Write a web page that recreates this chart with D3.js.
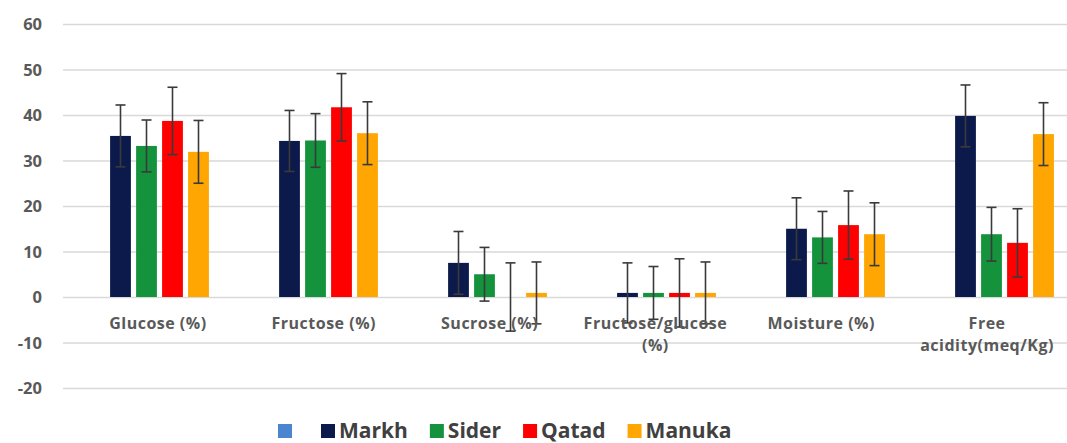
<!DOCTYPE html>
<html>
<head>
<meta charset="utf-8">
<script src="https://cdn.jsdelivr.net/npm/d3@7"></script>
<style>
  html, body { margin: 0; padding: 0; background: #fff; }
  svg { display: block; }
  text { font-family: "Open Sans", sans-serif; font-weight: 700; }
</style>
</head>
<body>
<svg id="chart" width="1067" height="443"></svg>
<script>
const categories = ["Glucose (%)", "Fructose (%)", "Sucrose (%)", "Fructose/glucose (%)", "Moisture (%)", "Free acidity(meq/Kg)"];
const categoryLines = [["Glucose (%)"], ["Fructose (%)"], ["Sucrose (%)"], ["Fructose/glucose", "(%)"], ["Moisture (%)"], ["Free", "acidity(meq/Kg)"]];
const seriesNames = ["Markh", "Sider", "Qatad", "Manuka"];
const markh = [35.4, 34.3, 7.5, 0.9, 15.0, 39.8];
const markhErr = [6.8, 6.7, 6.9, 6.6, 6.8, 6.8];
const sider = [33.2, 34.4, 5.0, 0.9, 13.1, 13.8];
const siderErr = [5.7, 5.9, 5.9, 5.8, 5.7, 5.9];
const qatad = [38.7, 41.7, 0.0, 0.9, 15.8, 11.9];
const qatadErr = [7.4, 7.4, 7.5, 7.5, 7.5, 7.5];
const manuka = [31.9, 36.0, 0.9, 0.9, 13.8, 35.8];
const manukaErr = [6.9, 6.9, 6.8, 6.8, 6.9, 6.9];
const yTicks = [-20, -10, 0, 10, 20, 30, 40, 50, 60];
const yTickLabels = ["-20", "-10", "0", "10", "20", "30", "40", "50", "60"];

const colors = { Markh: "#0b1a4b", Sider: "#14933c", Qatad: "#fe0000", Manuka: "#ffa602" };
const extraLegendColor = "#4a86cf";

const values = { Markh: markh, Sider: sider, Qatad: qatad, Manuka: manuka };
const errors = { Markh: markhErr, Sider: siderErr, Qatad: qatadErr, Manuka: manukaErr };

const svg = d3.select("#chart");

const y = d3.scaleLinear().domain([-20, 60]).range([388, 24]);
const x0 = d3.scaleBand().domain(categories).range([75, 1089]).padding(0);
const x1 = d3.scaleBand().domain(seriesNames)
  .range([x0.bandwidth() / 2 - 52, x0.bandwidth() / 2 + 52]).paddingInner(0.2).paddingOuter(0.1);
const xLabel = d3.scaleBand().domain(categories).range([75, 1070]).padding(0);

// gridlines + y tick labels
const yAxis = d3.axisLeft(y).tickValues(yTicks).tickSize(-(1067 - 63)).tickPadding(21)
  .tickFormat((d, i) => yTickLabels[i]);
const gAxis = svg.append("g").attr("transform", "translate(63,0)").call(yAxis);
gAxis.select(".domain").remove();
gAxis.selectAll(".tick line").attr("stroke", "#d9d9d9").attr("stroke-width", 1.6);
gAxis.selectAll(".tick text").attr("fill", "#595959").attr("font-size", 16.5)
  .attr("font-family", "'Open Sans', sans-serif").attr("font-weight", 700)
  .attr("dy", "0.35em");

// bars
const groups = svg.append("g").selectAll("g").data(categories).join("g")
  .attr("transform", d => `translate(${x0(d)},0)`);

groups.selectAll("rect").data((d, i) => seriesNames.map(s => ({ s, v: values[s][i], e: errors[s][i] })))
  .join("rect")
  .attr("x", d => x1(d.s))
  .attr("width", x1.bandwidth())
  .attr("y", d => y(Math.max(0, d.v)))
  .attr("height", d => Math.abs(y(d.v) - y(0)))
  .attr("fill", d => colors[d.s]);

// error bars
const eg = groups.selectAll("g.err").data((d, i) => seriesNames.map(s => ({ s, v: values[s][i], e: errors[s][i] })))
  .join("g").attr("class", "err")
  .attr("stroke", "#3a3a3a").attr("stroke-width", 1.6);
eg.append("line")
  .attr("x1", d => x1(d.s) + x1.bandwidth() / 2).attr("x2", d => x1(d.s) + x1.bandwidth() / 2)
  .attr("y1", d => y(d.v + d.e)).attr("y2", d => y(d.v - d.e));
eg.append("line")
  .attr("x1", d => x1(d.s) + x1.bandwidth() / 2 - 5).attr("x2", d => x1(d.s) + x1.bandwidth() / 2 + 5)
  .attr("y1", d => y(d.v + d.e)).attr("y2", d => y(d.v + d.e));
eg.append("line")
  .attr("x1", d => x1(d.s) + x1.bandwidth() / 2 - 5).attr("x2", d => x1(d.s) + x1.bandwidth() / 2 + 5)
  .attr("y1", d => y(d.v - d.e)).attr("y2", d => y(d.v - d.e));

// category labels
const labelsG = svg.append("g");
labelsG.selectAll("text").data(categories).join("text")
  .attr("text-anchor", "middle")
  .attr("fill", "#595959")
  .attr("font-size", 16)
  .attr("letter-spacing", 0.5)
  .each(function (c, i) {
    const t = d3.select(this);
    const cx = xLabel(c) + xLabel.bandwidth() / 2;
    categoryLines[i].forEach((line, j) => {
      t.append("tspan").attr("x", cx).attr("y", 329 + j * 22).text(line);
    });
  });
// keep last label inside the canvas
labelsG.selectAll("text").each(function () {
  const bb = this.getBBox();
  if (bb.x + bb.width > 1065) {
    const shift = bb.x + bb.width - 1065;
    d3.select(this).selectAll("tspan").attr("x", function () { return +d3.select(this).attr("x") - shift; });
  }
});

// legend
const legendItems = [{ name: "", color: extraLegendColor }].concat(seriesNames.map(s => ({ name: s, color: colors[s] })));
const legend = svg.append("g").attr("transform", "translate(278,424)");
let lx = 0;
legendItems.forEach((item, i) => {
  const g = legend.append("g").attr("transform", `translate(${lx},0)`);
  g.append("rect").attr("width", 14).attr("height", 14).attr("fill", item.color);
  let w = 14;
  if (item.name) {
    const t = g.append("text").attr("x", 18).attr("y", 14).attr("font-size", 21)
      .attr("fill", "#404040").text(item.name);
    w = 18 + t.node().getComputedTextLength();
  }
  lx += w + (i === 0 ? 29 : 22);
});
</script>
</body>
</html>
